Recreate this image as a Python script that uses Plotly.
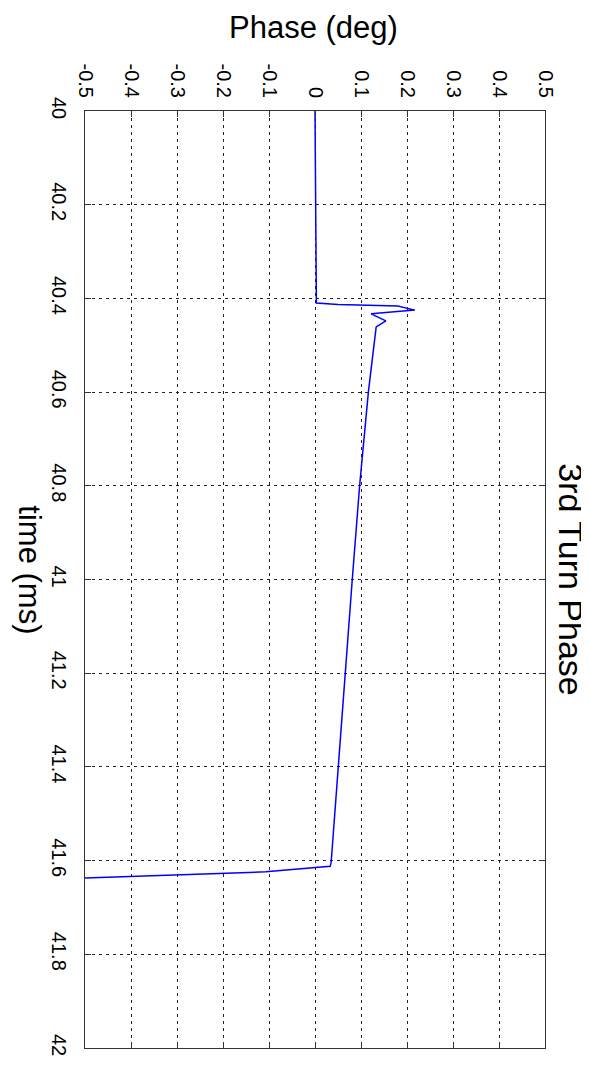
import plotly.graph_objects as go

# Data (time in ms, phase in deg)
time_ms = [40.0, 40.2, 40.41, 40.413, 40.416, 40.425, 40.433, 40.448, 40.461,
           40.6, 40.8, 41.0, 41.2, 41.4, 41.605, 41.612, 41.62, 41.624, 41.637]
phase_deg = [0.0, 0.001, 0.003, 0.05, 0.18, 0.217, 0.122, 0.154, 0.133,
             0.116, 0.097, 0.081, 0.066, 0.05, 0.035, 0.033, -0.052, -0.107, -0.5]

x_ticks = [-0.5, -0.4, -0.3, -0.2, -0.1, 0, 0.1, 0.2, 0.3, 0.4, 0.5]
x_labels = ["-0.5", "-0.4", "-0.3", "-0.2", "-0.1", "0", "0.1", "0.2", "0.3", "0.4", "0.5"]
y_ticks = [40, 40.2, 40.4, 40.6, 40.8, 41, 41.2, 41.4, 41.6, 41.8, 42]
y_labels = ["40", "40.2", "40.4", "40.6", "40.8", "41", "41.2", "41.4", "41.6", "41.8", "42"]

FONT = "Liberation Sans, Arial, sans-serif"

fig = go.Figure()
fig.add_trace(go.Scatter(x=phase_deg, y=time_ms, mode="lines",
                         line=dict(color="#0000ff", width=1.5),
                         showlegend=False, cliponaxis=True))

axis_common = dict(showline=True, linecolor="#333333", linewidth=1, mirror="ticks",
                   ticks="inside", ticklen=6, tickcolor="#333333",
                   showgrid=True, gridcolor="#222222", gridwidth=1, griddash="3px,4px",
                   zeroline=False, tickangle=90, automargin=False,
                   tickfont=dict(family=FONT, size=20, color="#000000"))

fig.update_xaxes(range=[-0.5, 0.5], side="top", tickvals=x_ticks, ticktext=x_labels,
                 ticklabelstandoff=5, **axis_common)
fig.update_yaxes(range=[42, 40], tickvals=y_ticks, ticktext=y_labels,
                 ticklabelstandoff=8, **axis_common)

fig.add_annotation(text="Phase (deg)", x=0.497, y=1.0886, xref="paper", yref="paper",
                   xanchor="center", yanchor="middle", showarrow=False,
                   font=dict(family=FONT, size=31, color="#000000"))
fig.add_annotation(text="time (ms)", textangle=90, x=-0.12, y=0.51, xref="paper", yref="paper",
                   xanchor="center", yanchor="middle", showarrow=False,
                   font=dict(family=FONT, size=31, color="#000000"))
fig.add_annotation(text="3rd Turn Phase", textangle=90, x=1.057, y=0.5, xref="paper", yref="paper",
                   xanchor="center", yanchor="middle", showarrow=False,
                   font=dict(family=FONT, size=34, color="#000000"))

fig.update_layout(width=589, height=1067, margin=dict(l=77, r=52, t=103, b=27),
                  plot_bgcolor="white", paper_bgcolor="white", showlegend=False)

fig.write_html("out.html")
